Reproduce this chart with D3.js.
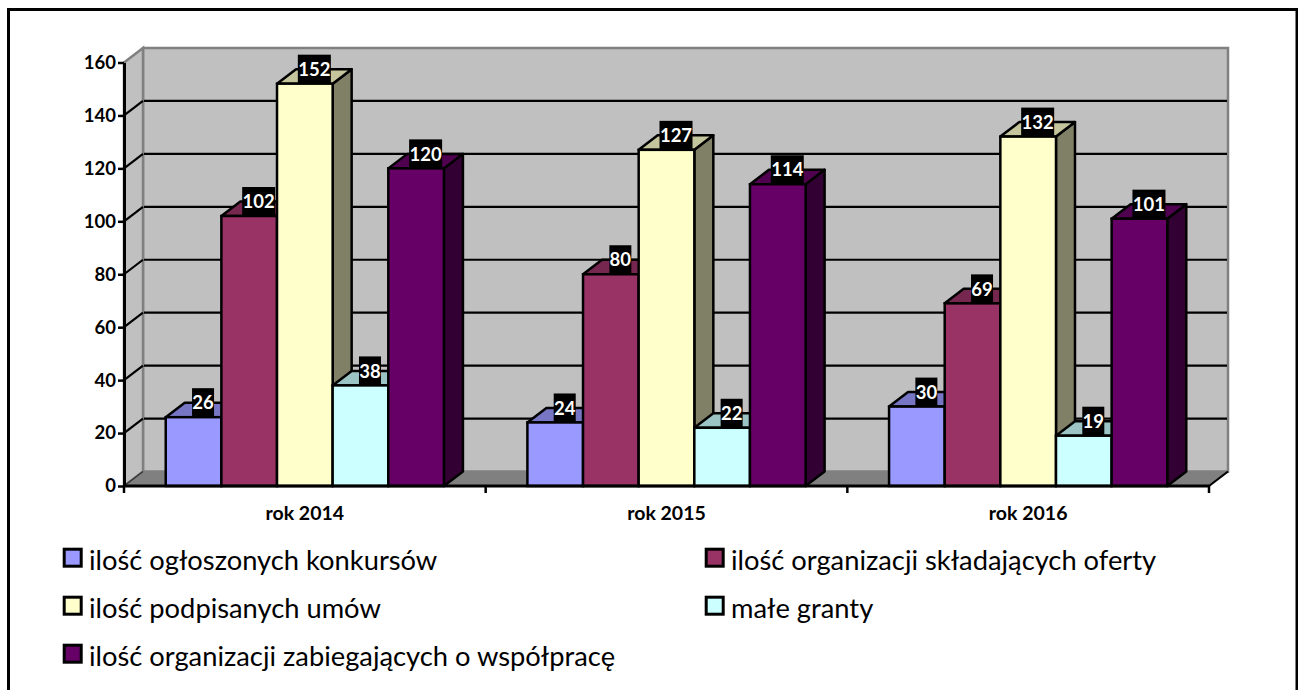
<!DOCTYPE html>
<html>
<head>
<meta charset="utf-8">
<script src="https://cdn.jsdelivr.net/npm/d3@7"></script>
<style>
    html, body { margin: 0; padding: 0; background: #fff; overflow: hidden; }
    text { font-family: Lato, "Open Sans", sans-serif; }
</style>
</head>
<body>
<div id="chart"></div>
<script>
const categories = ["rok 2014", "rok 2015", "rok 2016"];
const seriesNames = [
    "ilość ogłoszonych konkursów",
    "ilość organizacji składających oferty",
    "ilość podpisanych umów",
    "małe granty",
    "ilość organizacji zabiegających o współpracę"
];
const konkursy = [26, 24, 30];
const organizacje = [102, 80, 69];
const umowy = [152, 127, 132];
const maleGranty = [38, 22, 19];
const zabiegajace = [120, 114, 101];
const seriesValues = [konkursy, organizacje, umowy, maleGranty, zabiegajace];
const seriesColors = ["#9999ff", "#993366", "#ffffcc", "#ccffff", "#660066"];
const yTicks = [0, 20, 40, 60, 80, 100, 120, 140, 160];

const width = 1298, height = 690;
const depthX = 19, depthY = 14.5;

const svg = d3.select("#chart").append("svg")
    .attr("width", width)
    .attr("height", height);

// outer frame, the bottom edge is cut off by the window
svg.append("rect")
    .attr("x", 8.5).attr("y", 9.5)
    .attr("width", 1288.5).attr("height", 700)
    .attr("fill", "#fff")
    .attr("stroke", "#000")
    .attr("stroke-width", 3);

const x0 = d3.scaleBand().domain(categories).range([124, 1209]);
const x1 = d3.scaleBand().domain(d3.range(seriesNames.length))
    .range([0, x0.bandwidth()])
    .paddingOuter(0.75);
const y = d3.scaleLinear().domain([0, 160]).range([486, 62.5]);

const poly = pts => pts.map(p => p.join(",")).join(" ");
const shade = (hex, k) => {
    const c = d3.rgb(hex);
    return d3.rgb(c.r * k, c.g * k, c.b * k);
};

const x_l = x0.range()[0], x_r = x0.range()[1];
const y_b = y(0), y_t = y(160);

// walls and floor
svg.append("polygon")
    .attr("points", poly([[x_l + depthX, y_t - depthY], [x_r + depthX, y_t - depthY], [x_r + depthX, y_b - depthY], [x_l + depthX, y_b - depthY]]))
    .attr("fill", "#c0c0c0").attr("stroke", "#808080").attr("stroke-width", 2.5);
svg.append("polygon")
    .attr("points", poly([[x_l, y_t], [x_l + depthX, y_t - depthY], [x_l + depthX, y_b - depthY], [x_l, y_b]]))
    .attr("fill", "#c0c0c0").attr("stroke", "#808080").attr("stroke-width", 2.5);
svg.append("polygon")
    .attr("points", poly([[x_l, y_b], [x_l + depthX, y_b - depthY], [x_r + depthX, y_b - depthY], [x_r, y_b]]))
    .attr("fill", "#808080").attr("stroke", "#808080").attr("stroke-width", 1);

// gridlines on the back wall and the left wall
const grid = yTicks.filter(d => d > 0 && d < 160);
svg.append("g").selectAll("line").data(grid).join("line")
    .attr("x1", x_l + depthX + 1).attr("x2", x_r + depthX - 1)
    .attr("y1", d => y(d) - depthY).attr("y2", d => y(d) - depthY)
    .attr("stroke", "#000").attr("stroke-width", 2.2);
svg.append("g").selectAll("line").data(grid).join("line")
    .attr("x1", x_l).attr("x2", x_l + depthX)
    .attr("y1", d => y(d)).attr("y2", d => y(d) - depthY)
    .attr("stroke", "#000").attr("stroke-width", 2.2);

// floor edges
svg.append("line")
    .attr("x1", x_r).attr("y1", y_b).attr("x2", x_r + depthX).attr("y2", y_b - depthY)
    .attr("stroke", "#000").attr("stroke-width", 2.2);
svg.append("line")
    .attr("x1", x_l).attr("y1", y_b).attr("x2", x_l + depthX).attr("y2", y_b - depthY)
    .attr("stroke", "#333").attr("stroke-width", 1.5);

// bars, left to right so the next bar covers the side of the previous one
const bars = [];
categories.forEach((c, i) => {
    seriesNames.forEach((s, j) => {
        bars.push({ cat: c, s: j, value: seriesValues[j][i] });
    });
});

const barGroups = svg.append("g").selectAll("g").data(bars).join("g");
const left = d => x0(d.cat) + x1(d.s);
const right = d => left(d) + x1.bandwidth();

barGroups.append("polygon") // side
    .attr("points", d => poly([[right(d), y(d.value)], [right(d) + depthX, y(d.value) - depthY], [right(d) + depthX, y_b - depthY], [right(d), y_b]]))
    .attr("fill", d => shade(seriesColors[d.s], 0.5))
    .attr("stroke", "#000").attr("stroke-width", 2.5).attr("stroke-linejoin", "round");
barGroups.append("polygon") // top
    .attr("points", d => poly([[left(d), y(d.value)], [left(d) + depthX, y(d.value) - depthY], [right(d) + depthX, y(d.value) - depthY], [right(d), y(d.value)]]))
    .attr("fill", d => shade(seriesColors[d.s], 0.77))
    .attr("stroke", "#000").attr("stroke-width", 2.5).attr("stroke-linejoin", "round");
barGroups.append("rect") // front
    .attr("x", left)
    .attr("y", d => y(d.value))
    .attr("width", x1.bandwidth())
    .attr("height", d => y_b - y(d.value))
    .attr("fill", d => seriesColors[d.s])
    .attr("stroke", "#000").attr("stroke-width", 2.5);

// axes
svg.append("g")
    .attr("transform", `translate(${x_l},0)`)
    .call(d3.axisLeft(y).tickValues(yTicks).tickSize(6).tickSizeOuter(0).tickPadding(2))
    .call(g => g.select(".domain").attr("stroke-width", 3))
    .call(g => g.selectAll(".tick line").attr("stroke-width", 2.5))
    .call(g => g.selectAll("text").attr("font-size", 18.5).attr("font-weight", 700).attr("fill", "#000")
        .style("font-family", "Lato"));

svg.append("line")
    .attr("x1", x_l).attr("x2", x_r)
    .attr("y1", y_b).attr("y2", y_b)
    .attr("stroke", "#000").attr("stroke-width", 3);
svg.append("g").selectAll("line")
    .data(d3.range(categories.length + 1))
    .join("line")
    .attr("x1", i => x_l + i * x0.step()).attr("x2", i => x_l + i * x0.step())
    .attr("y1", y_b).attr("y2", y_b + 7)
    .attr("stroke", "#000").attr("stroke-width", 2.5);

svg.append("g").selectAll("text").data(categories).join("text")
    .attr("x", d => x0(d) + x0.bandwidth() / 2)
    .attr("y", 520)
    .attr("text-anchor", "middle")
    .attr("font-size", 19.5)
    .attr("font-weight", 700)
    .text(d => d);

// value labels on black boxes
const labels = svg.append("g").selectAll("g").data(bars).join("g")
    .attr("transform", d => `translate(${left(d) + x1.bandwidth() / 2 + depthX / 2},${y(d.value) - depthY})`);
labels.append("rect")
    .attr("x", d => d.value >= 100 ? -16.5 : -11)
    .attr("y", -14.5)
    .attr("width", d => d.value >= 100 ? 33 : 22)
    .attr("height", 29)
    .attr("fill", "#000");
labels.append("text")
    .attr("text-anchor", "middle")
    .attr("dy", "0.36em")
    .attr("font-size", 18.5)
    .attr("font-weight", 700)
    .attr("fill", "#fff")
    .text(d => d.value);

// legend
const legendX = [62, 704];
const legendY = [560, 608, 656];
const legend = svg.append("g").selectAll("g").data(seriesNames).join("g")
    .attr("transform", (d, i) => i === 4
        ? `translate(${legendX[0]},${legendY[2]})`
        : `translate(${legendX[i % 2]},${legendY[Math.floor(i / 2)]})`);
legend.append("rect")
    .attr("x", 2.2).attr("y", -10.8)
    .attr("width", 17).attr("height", 17)
    .attr("fill", (d, i) => seriesColors[i])
    .attr("stroke", "#000").attr("stroke-width", 3);
legend.append("text")
    .attr("x", 27)
    .attr("y", 0)
    .attr("dy", "0.35em")
    .attr("font-size", 27.3)
    .attr("fill", "#000")
    .text(d => d);
</script>
</body>
</html>
